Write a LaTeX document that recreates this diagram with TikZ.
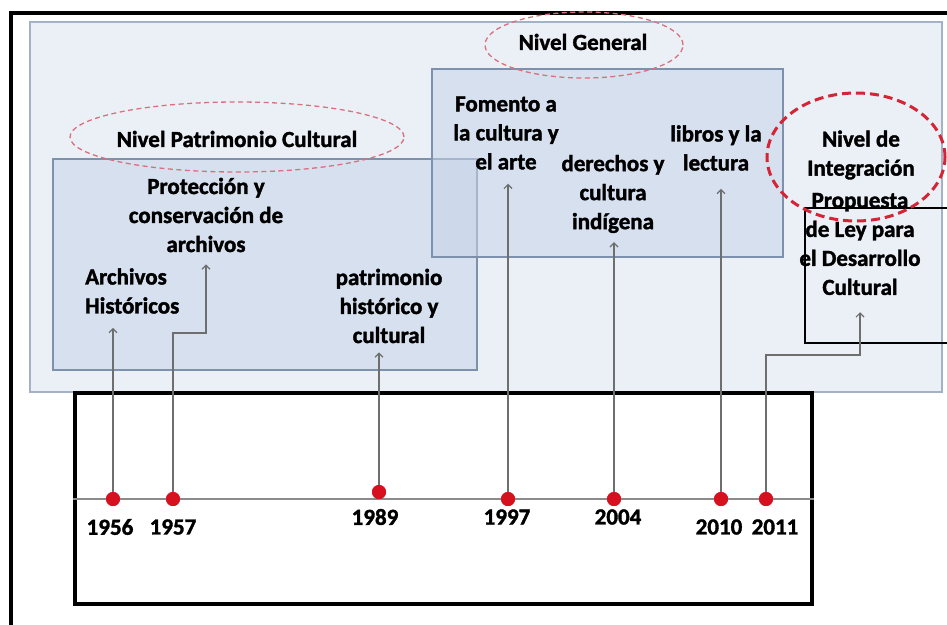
\documentclass[tikz,border=0pt]{standalone}
\usepackage{fontspec}
\setmainfont{Carlito}[BoldFeatures={FakeBold=1.6}]
\usetikzlibrary{arrows.meta,calc}
\definecolor{bgfill}{HTML}{EBF0F7}
\definecolor{bgline}{HTML}{A3B2C5}
\definecolor{infill}{HTML}{C6D4E8}
\definecolor{inline}{HTML}{7D91AD}
\definecolor{arrowgray}{HTML}{6E6E6E}
\definecolor{dotred}{HTML}{D6101E}
\definecolor{pinkdash}{HTML}{D9707E}
\definecolor{reddash}{HTML}{D42436}
\begin{document}
\begin{tikzpicture}[x=1pt,y=-1pt,
  lbl/.style={font=\bfseries\fontsize{23}{29}\selectfont, align=center, inner sep=0pt, text=black},
  yr/.style={font=\bfseries\fontsize{23}{29}\selectfont, inner sep=0pt},
  dotnode/.style={circle, fill=dotred, minimum size=14pt, inner sep=0pt},
  conn/.style={draw=arrowgray, line width=1.2pt, -{Straight Barb[length=4pt,width=8pt]}},
  bgbox/.style={fill=bgfill, draw=bgline, line width=1.5pt},
  inbox/.style={fill=infill, fill opacity=0.55, draw=inline, draw opacity=1, line width=1.5pt},
  thinell/.style={draw=pinkdash, line width=1.3pt, dash pattern=on 5pt off 3.5pt},
  thickell/.style={draw=reddash, line width=3pt, dash pattern=on 9pt off 5pt},
  tlbox/.style={draw=black, fill=white, line width=4pt, minimum width=737pt, minimum height=211pt, inner sep=0pt}
]
\clip (0,0) rectangle (947,624);
\fill[white] (0,0) rectangle (947,624);
% outer frame
\draw[line width=4pt] (11,13) rectangle (965,645);
% background panel
\draw[bgbox] (30,22) rectangle (942,392);
% inner panels
\draw[inbox] (53,159) rectangle (477,370);
\draw[inbox] (432,69) rectangle (783,257);
% timeline box
\node[tlbox] (tl) at (443.5,498.5) {};
\draw[draw=arrowgray!80, line width=1.5pt] (tl.west |- 0,499) -- (tl.east |- 0,499);
% propuesta box
\draw[line width=2.5pt] (805,208) rectangle (965,343);

% level labels and ellipses
\node[lbl] (npc) at (237,139) {Nivel Patrimonio Cultural};
\draw[thinell] (237,137) ellipse [x radius=167pt, y radius=35pt];
\node[lbl] (ngen) at (583,42) {Nivel General};
\draw[thinell] (584,45) ellipse [x radius=99pt, y radius=33pt];
\node[lbl] (ninteg) at (861,155) {Nivel de\\Integración};
\draw[thickell] (856,157) ellipse [x radius=89pt, y radius=64pt];

% item labels
\node[lbl] (prot) at (206,215) {Protección y\\conservación de\\archivos};
\node[lbl, align=left, anchor=west] (arch) at (85,291) {Archivos\\Históricos};
\node[lbl] (patr) at (389,306) {patrimonio\\histórico y\\cultural};
\node[lbl] (fom) at (506,133) {Fomento a\\la cultura y\\el arte};
\node[lbl] (der) at (613,194) {derechos y\\cultura\\indígena};
\node[lbl] (lib) at (716,148) {libros y la\\lectura};
\node[lbl] (prop) at (860,244) {Propuesta\\de Ley para\\el Desarrollo\\Cultural};

% dots
\node[dotnode] (d1956) at (113,499) {};
\node[dotnode] (d1957) at (173,499) {};
\node[dotnode] (d1989) at (379,492) {};
\node[dotnode] (d1997) at (508,499) {};
\node[dotnode] (d2004) at (614,499) {};
\node[dotnode] (d2010) at (721,499) {};
\node[dotnode] (d2011) at (766,499) {};

% connectors
\draw[conn, shorten >=14pt] (d1956.center) -- (d1956.center |- arch.south);
\draw[conn, shorten >=12pt] (d1957.center) -- ++(0,-166) -| (prot.south);
\draw[conn, shorten >=9pt] (d1989.center) -- (d1989.center |- patr.south);
\draw[conn, shorten >=14pt] (d1997.center) -- (d1997.center |- fom.south);
\draw[conn, shorten >=9pt] (d2004.center) -- (d2004.center |- der.south);
\draw[conn, shorten >=18pt] (d2010.center) -- (d2010.center |- lib.south);
\draw[conn, shorten >=17pt] (d2011.center) -- ++(0,-144) -| (prop.south);

% dots on top of the connectors
\foreach \d in {d1956,d1957,d1989,d1997,d2004,d2010,d2011}
  \fill[dotred] (\d.center) circle (7pt);

% years
\node[yr] (y1956) at (110,527) {1956};
\node[yr] (y1957) at (173,527) {1957};
\node[yr] (y1989) at (375,517) {1989};
\node[yr] (y1997) at (507,517) {1997};
\node[yr] (y2004) at (618,517) {2004};
\node[yr] (y2010) at (719,527) {2010};
\node[yr] (y2011) at (775,527) {2011};
\end{tikzpicture}
\end{document}
